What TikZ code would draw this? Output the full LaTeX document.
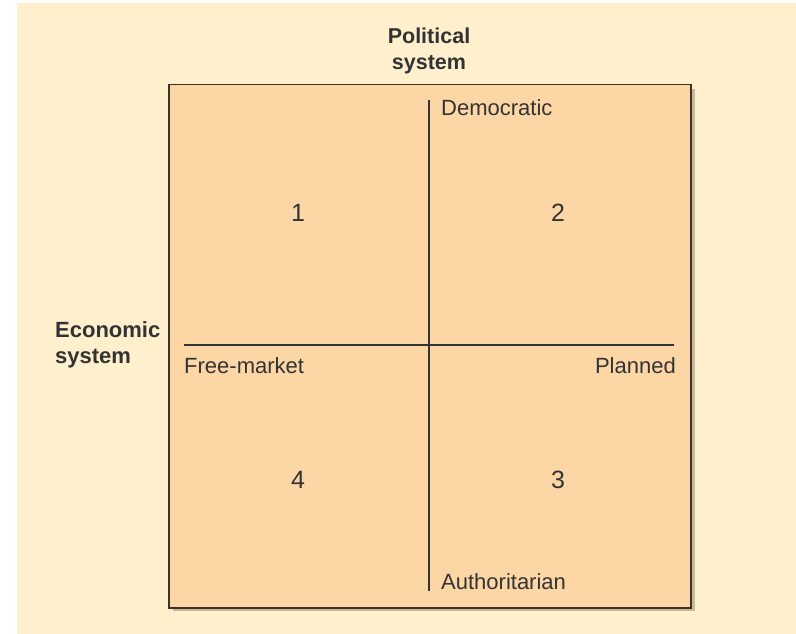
\documentclass[tikz,border=0pt]{standalone}
\usepackage{fontspec}
\setmainfont{Liberation Sans}
\definecolor{cream}{HTML}{FEF0CC}
\definecolor{boxfill}{HTML}{FDD6A6}
\definecolor{boxline}{HTML}{3E3226}
\definecolor{shadowc}{HTML}{C9B99B}
\definecolor{txt}{HTML}{333333}
\tikzset{
  axislabel/.style={inner sep=0pt, text=txt, font=\fontsize{22}{26}\selectfont},
  headlabel/.style={inner sep=0pt, text=txt, font=\fontsize{21.5}{26}\selectfont\bfseries, align=center},
  sidelabel/.style={inner sep=0pt, text=txt, font=\fontsize{22}{26}\selectfont\bfseries, align=left},
  numlabel/.style={inner sep=0pt, text=txt, font=\fontsize{25}{30}\selectfont},
  axisline/.style={draw=txt, line width=1.2pt},
}
\begin{document}
\begin{tikzpicture}[x=1pt,y=-1pt]
\useasboundingbox (0,0) rectangle (796,634);
\fill[white] (0,0) rectangle (796,634);
\fill[cream] (17,3) rectangle (797,635);
% shadow
\fill[shadowc] (173,89) rectangle (695,611);
% box
\node[draw=boxline, line width=1.5pt, fill=boxfill, minimum width=522pt, minimum height=523pt, inner sep=0pt, anchor=north west] (box) at (168,84) {};
% axes
\coordinate (vtop) at (429,100);
\coordinate (vbot) at (429,591);
\coordinate (hleft) at (184,345);
\coordinate (hright) at (674,345);
\draw[axisline] (vtop) -- (vbot);
\draw[axisline] (hleft) -- (hright);
% headings
\node[headlabel, anchor=base] (pol) at (429,70) {Political\\system};
\node[sidelabel, anchor=base west] (eco) at (55,363) {Economic\\system};
% axis labels
\node[axislabel, anchor=base west] (dem) at (441,115) {Democratic};
\node[axislabel, anchor=base west] (free) at (184,373) {Free-market};
\node[axislabel, anchor=base east] (plan) at (676,373) {Planned};
\node[axislabel, anchor=base west] (auth) at (441,589) {Authoritarian};
% numbers
\node[numlabel] (q1) at (298,213) {1};
\node[numlabel] (q2) at (558,213) {2};
\node[numlabel] (q3) at (558,480) {3};
\node[numlabel] (q4) at (298,480) {4};
\end{tikzpicture}
\end{document}
